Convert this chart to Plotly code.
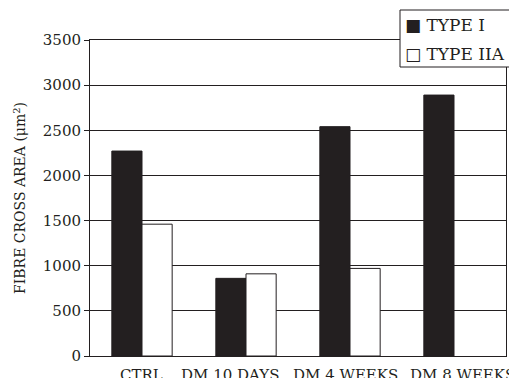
import plotly.graph_objects as go

# Mean fibre cross-sectional area per group
categories = ["CTRL", "DM 10 DAYS", "DM 4 WEEKS", "DM 8 WEEKS"]
type_i = [2270, 860, 2540, 2890]
type_iia = [1460, 910, 970, None]
y_ticks = [0, 500, 1000, 1500, 2000, 2500, 3000, 3500]
series_names = ["TYPE I", "TYPE IIA"]
legend_marks = ["\u25a0", "\u25a1"]

INK = "#231f20"
FONT = "DejaVu Serif"
W, H = 509, 378
M_L, M_R, M_T, M_B = 90, 3, 40, 22
PLOT_W, PLOT_H = W - M_L - M_R, H - M_T - M_B

# horizontal nudge (px) of each category label under its group
label_shift = [-1, -16, -5, 8]


def px_x(px):
    return (px - M_L) / PLOT_W


def px_y(py):
    return (H - M_B - py) / PLOT_H


fig = go.Figure()
fig.add_trace(go.Bar(
    name=series_names[0], x=categories, y=type_i,
    marker=dict(color=INK, line=dict(color=INK, width=1)),
))
fig.add_trace(go.Bar(
    name=series_names[1], x=categories, y=type_iia,
    marker=dict(color="white", line=dict(color=INK, width=1)),
))

# category labels beneath the axis
for cat, dx in zip(categories, label_shift):
    fig.add_annotation(
        x=cat, xref="x", y=0, yref="y", yanchor="top", xanchor="center",
        yshift=-8, xshift=dx, showarrow=False, text=cat,
        font=dict(family=FONT, size=15, color=INK),
    )

# boxed key in the upper right corner
fig.add_shape(
    type="rect", xref="paper", yref="paper", layer="above",
    x0=px_x(400), x1=px_x(515), y0=px_y(67), y1=px_y(10),
    fillcolor="white", line=dict(color=INK, width=1),
)
for i, (mark, name) in enumerate(zip(legend_marks, series_names)):
    fig.add_annotation(
        x=px_x(403), xref="paper", y=px_y(25 + 29 * i), yref="paper",
        xanchor="left", yanchor="middle", showarrow=False,
        text=f"{mark} {name}",
        font=dict(family=FONT, size=17, color=INK),
    )

fig.update_layout(
    width=W, height=H,
    margin=dict(l=M_L, r=M_R, t=M_T, b=M_B, autoexpand=False),
    paper_bgcolor="white", plot_bgcolor="white",
    barmode="group", bargap=0.42, bargroupgap=0,
    font=dict(family=FONT, color=INK, size=15),
    showlegend=False,
)
fig.update_xaxes(
    type="category", range=[-0.5, len(categories) - 0.5],
    showgrid=False, showline=True, linecolor=INK, linewidth=1, mirror=True,
    ticks="", showticklabels=False,
)
fig.update_yaxes(
    range=[0, 3500], tickvals=y_ticks,
    showgrid=True, gridcolor=INK, gridwidth=1,
    showline=True, linecolor=INK, linewidth=1, mirror=True,
    ticks="outside", ticklen=5, tickcolor=INK,
    tickfont=dict(family=FONT, size=15, color=INK),
    zeroline=False,
    title=dict(text="FIBRE CROSS AREA (μm<sup>2</sup>)",
               font=dict(family=FONT, size=14, color=INK), standoff=13),
)

fig.write_html("out.html")
